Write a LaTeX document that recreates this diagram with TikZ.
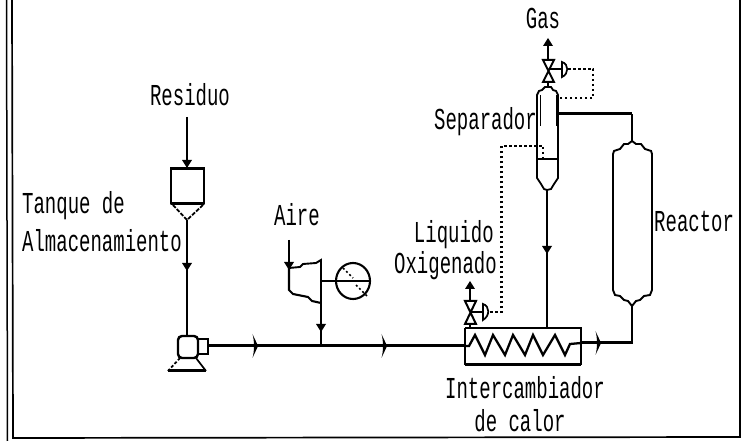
\documentclass[tikz,border=0pt]{standalone}
\usepackage{fontspec}
\setmainfont{Liberation Mono}
\usetikzlibrary{calc}
\tikzset{
  lbl/.style={inner sep=0pt,font=\fontsize{19}{19}\selectfont,yscale=1.6,transform shape},
  thin line/.style={line width=1.7pt,line join=round},
  thick line/.style={line width=3pt,line join=round},
  dot line/.style={line width=2.2pt,dash pattern=on 2.5pt off 2.5pt},
  down head/.pic={\fill (-5,-8) -- (5,-8) -- (0,0) -- cycle;},
  up head/.pic={\fill (-5,8) -- (5,8) -- (0,0) -- cycle;},
  flow tick/.pic={\fill (-1.5,-12) .. controls (0.5,-7) and (3,-3) .. (4,0) .. controls (3,3) and (0.5,7) .. (-1.5,12) .. controls (0.5,5) and (0.5,-5) .. cycle;},
}
\begin{document}
\begin{tikzpicture}[x=1pt,y=-1pt]
\useasboundingbox (0,0) rectangle (745,443);
\fill[white] (0,0) rectangle (745,443);
% frame
\draw[line width=1.5pt] (6.5,0) -- (7.5,441);
\draw[line width=1.7pt] (12,0) -- (13,438) -- (740,437) -- (740,0);

% labels
\node[lbl] (gas) at (543,18) {Gas};
\node[lbl] (residuo) at (190,95) {Residuo};
\node[lbl,anchor=west] (tanque) at (22,206) {Tanque de};
\node[lbl,anchor=west] (almacen) at (22,241) {Almacenamiento};
\node[lbl] (aire) at (297,215) {Aire};
\node[lbl,anchor=east] (separador) at (537,122) {Separador};
\node[lbl,anchor=east] (liquido) at (494,235) {Liquido};
\node[lbl,anchor=east] (oxigenado) at (497,266) {Oxigenado};
\node[lbl,anchor=west] (reactor) at (654,222) {Reactor};
\node[lbl] (interc) at (525,388) {Intercambiador};
\node[lbl] (decalor) at (520,421) {de calor};

% named points
\coordinate (resTop) at (187,117);
\coordinate (tankIn) at (187,168);
\coordinate (tankOut) at (187,220);
\coordinate (pumpTop) at (187,336);
\coordinate (pumpOut) at (208,346);
\coordinate (hxIn) at (465,346);
\coordinate (hxOut) at (581,343);
\coordinate (hxTop) at (547,328);
\coordinate (reacBot) at (632,306);
\coordinate (reacTop) at (632,141);
\coordinate (sepBot) at (547,190);
\coordinate (sepRight) at (559,114);
\coordinate (airJoin) at (321,346);

% tank
\draw[thin line] (171,169) -- (171,204) -- (204,204) -- (204,169);
\draw[thick line] (170,169) -- (205,169);
\draw[thick line] (171,204) -- (204,204);
\draw[line width=1.8pt,dash pattern=on 4pt off 1.5pt] (173,205) -- (tankOut) -- (203,205);
\draw[thin line] (resTop) -- (tankIn);
\pic at (187,168) {down head};
\draw[thin line] (tankOut) -- (pumpTop);
\pic at (187,271) {down head};

% pump
\draw[line width=2.4pt,rounded corners=4pt] (178,336) rectangle (198,358);
\draw[line width=1.8pt] (198,339) rectangle (208,354);
\draw[line width=1.8pt,dash pattern=on 3pt off 2pt] (180,358) -- (168,371);
\draw[thin line] (196,358) -- (206,371);
\draw[thick line] (168,371) -- (206,371);

% main line
\draw[thick line] (pumpOut) -- (hxIn);
\pic at (254,346) {flow tick};
\pic at (383,346) {flow tick};

% air compressor
\draw[thin line] (289,240) -- (289,269);
\pic at (289,270) {down head};
\draw[line width=1.9pt] (289,268) -- (300,267) -- (303,264) -- (316,263) -- (321,260) -- (airJoin);
\draw[line width=2.1pt] (289,268) -- (289,290) -- (293,294) -- (308,297) -- (312,301) -- (321,303);
\pic at (321,332) {down head};
\draw[thin line] (321,281) -- (337,281);
\draw[line width=2.1pt] (353,281) ellipse [x radius=17,y radius=18];
\draw[thin line] (337,281) -- (370,281);
\draw[line width=1.7pt,dash pattern=on 2pt off 2.5pt] (343,268) -- (353,278);
\draw[line width=1.7pt,dash pattern=on 2pt off 2.5pt] (356,285) -- (368,297);

% heat exchanger
\draw[line width=1.8pt] (465,328) -- (581,328) -- (581,365);
\draw[line width=1.8pt] (465,328) -- (465,365);
\draw[thick line] (465,365) -- (581,365);
\draw[line width=2.3pt] (hxIn) -- (469,346) -- (475,335) -- (485,355) -- (493,335) -- (505,355) -- (513,335) -- (525,355) -- (533,335) -- (543,355) -- (555,335) -- (565,355) -- (570,344) -- (hxOut);
\draw[thick line] (hxOut) -- (632,343);
\pic at (597,343) {flow tick};
\draw[thin line] (632,344) -- (reacBot);

% reactor
\draw[line width=1.9pt] (reacTop) -- (628,144) -- (624,144) -- (620,149) -- (614,151) -- (613,154) -- (613,290) -- (615,295) -- (620,296) -- (624,300) -- (628,301) -- (reacBot) -- (636,301) -- (640,300) -- (644,296) -- (650,295) -- (652,290) -- (652,154) -- (651,151) -- (645,149) -- (641,144) -- (636,144) -- cycle;
\draw[thin line] (reacTop) -- (632,114);
\draw[thick line] (632,114) -- (sepRight);

% separator
\draw[line width=1.8pt] (537,95) -- (537,178) -- (541,184) -- (544,189) -- (sepBot) -- (551,189) -- (554,184) -- (558,178) -- (558,95) -- (556,91) -- (553,90) -- (551,87) -- (545,87) -- (542,90) -- (539,91) -- cycle;
\draw[line width=1pt] (540,95) -- (540,126);
\draw[line width=1pt] (556,95) -- (556,126);
\draw[line width=2.6pt] (537,159) -- (558,159);
\draw[thin line] (sepBot) -- (hxTop);
\pic at (547,254) {down head};

% top valve
\draw[thin line] (548,60) -- (548,42);
\pic at (548,38) {up head};
\draw[line width=2pt] (543,60) -- (554,60) -- (543,82) -- (554,82) -- cycle;
\draw[thin line] (548,82) -- (548,87);
\draw[line width=2.3pt] (549,69) -- (562,69);
\draw[line width=1.7pt] (562,62) .. controls (569,64) and (569,74) .. (562,77) -- cycle;
\draw[dot line] (568,69) -- (593,69) -- (593,98) -- (559,98);

% lower valve
\draw[thin line] (470,301) -- (470,285);
\pic at (470,281) {up head};
\draw[line width=2pt] (465,301) -- (476,301) -- (465,324) -- (476,324) -- cycle;
\draw[thin line] (470,324) -- (470,328);
\draw[line width=2.3pt] (471,312) -- (483,312);
\draw[line width=1.7pt] (483,304) .. controls (490,306) and (490,316) .. (483,320) -- cycle;
\draw[dot line] (490,312) -- (501.5,312) -- (501.5,146) -- (543,146) -- (543,159);
\end{tikzpicture}
\end{document}
